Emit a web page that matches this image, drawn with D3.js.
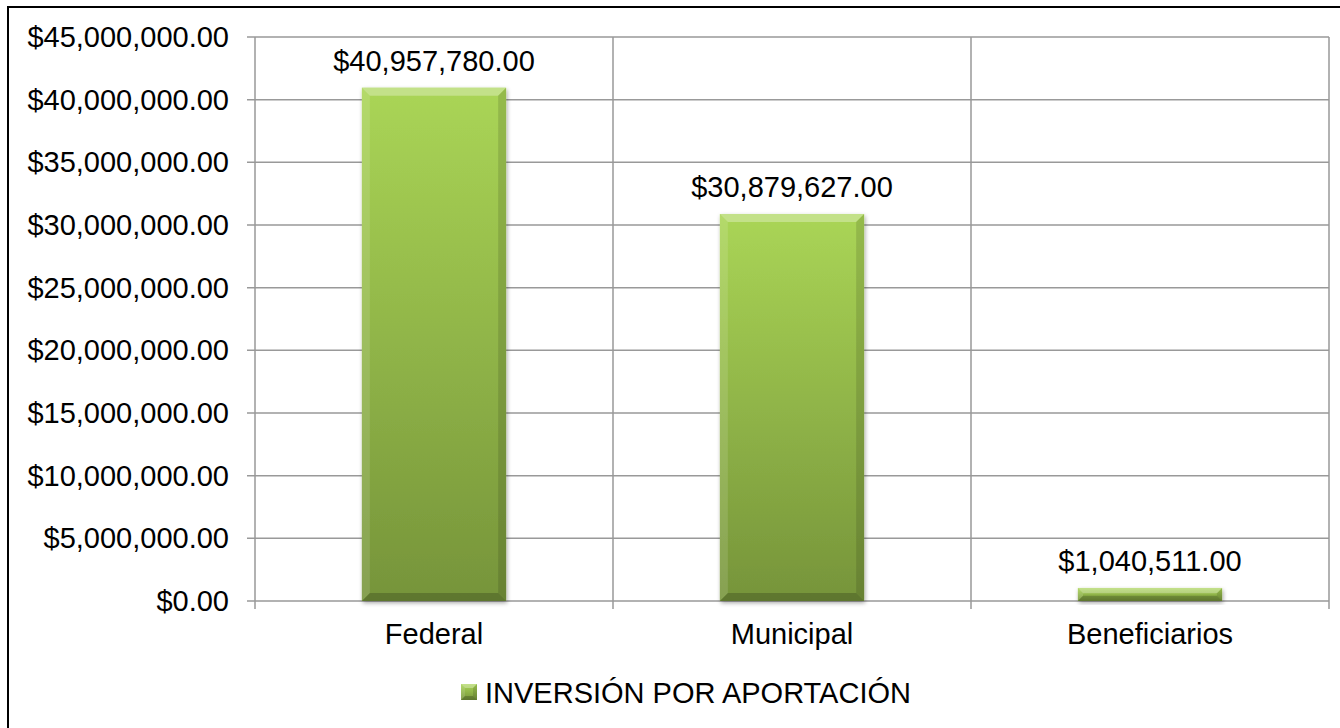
<!DOCTYPE html>
<html lang="es">
<head>
  <meta charset="UTF-8" />
  <title>Inversión por aportación</title>
  <style>
    body { margin: 0; background: #fff; }
    svg { display: block; font-family: "Liberation Sans", Arial, sans-serif; }
  </style>
  <script src="https://d3js.org/d3.v7.min.js"></script>
</head>
<body>
<svg id="chart" width="1340" height="728"></svg>
<script>
  const categories = ['Federal', 'Municipal', 'Beneficiarios'];
  const values = [40957780, 30879627, 1040511];
  const yTicks = [0, 5e6, 10e6, 15e6, 20e6, 25e6, 30e6, 35e6, 40e6, 45e6];
  const seriesName = 'INVERSIÓN POR APORTACIÓN';

  const svg = d3.select('#chart');
  const plotLeft = 255, plotRight = 1329, plotTop = 37, plotBottom = 601;
  const fs = 29;

  const money = v => '$' + d3.format(',.2f')(v);

  const x = d3.scaleBand().domain(categories).range([plotLeft, plotRight]).padding(0);
  const y = d3.scaleLinear().domain([0, 45e6]).range([plotBottom, plotTop]);

  // frame around the whole chart
  svg.append('rect')
    .attr('x', 8).attr('y', 7).attr('width', 1340).attr('height', 730)
    .attr('fill', 'none').attr('stroke', '#000').attr('stroke-width', 2);

  const defs = svg.append('defs');
  const grad = defs.append('linearGradient').attr('id', 'barGrad')
    .attr('x1', 0).attr('y1', 0).attr('x2', 0).attr('y2', 1);
  grad.append('stop').attr('offset', '0%').attr('stop-color', '#aad556');
  grad.append('stop').attr('offset', '100%').attr('stop-color', '#76943a');

  const shadow = defs.append('filter').attr('id', 'shadow')
    .attr('x', '-10%').attr('y', '-10%').attr('width', '130%').attr('height', '140%');
  shadow.append('feDropShadow').attr('dx', 1).attr('dy', 2).attr('stdDeviation', 2)
    .attr('flood-color', '#000').attr('flood-opacity', 0.35);

  // gridlines
  svg.append('g').selectAll('line').data(yTicks).join('line')
    .attr('x1', plotLeft - 8).attr('x2', plotRight)
    .attr('y1', d => y(d)).attr('y2', d => y(d))
    .attr('stroke', '#999').attr('stroke-width', 1.5);

  const xEdges = categories.map(c => x(c)).concat([plotRight]);
  svg.append('g').selectAll('line').data(xEdges).join('line')
    .attr('x1', d => d).attr('x2', d => d)
    .attr('y1', plotTop).attr('y2', plotBottom + 8)
    .attr('stroke', '#999').attr('stroke-width', 1.5);

  // y axis labels
  svg.append('g').selectAll('text').data(yTicks).join('text')
    .attr('x', 229).attr('y', d => y(d)).attr('dy', '0.35em')
    .attr('text-anchor', 'end').attr('font-size', fs).attr('fill', '#000')
    .text(money);

  // category labels
  svg.append('g').selectAll('text').data(categories).join('text')
    .attr('x', d => x(d) + x.bandwidth() / 2).attr('y', 644)
    .attr('text-anchor', 'middle').attr('font-size', fs).attr('fill', '#000')
    .text(d => d);

  // beveled box, used for bars and legend key
  function bevelBox(g, x0, x1, y0, y1, bMax, withShadow) {
    const b = Math.min(bMax, (y1 - y0) / 2.5, (x1 - x0) / 2.5);
    const r = g.append('rect').attr('x', x0).attr('y', y0)
      .attr('width', x1 - x0).attr('height', y1 - y0)
      .attr('fill', 'url(#barGrad)');
    if (withShadow) r.attr('filter', 'url(#shadow)');
    const poly = (pts, fill, op) => g.append('polygon')
      .attr('points', pts.map(p => p.join(',')).join(' '))
      .attr('fill', fill).attr('fill-opacity', op);
    poly([[x0, y0], [x1, y0], [x1 - b, y0 + b], [x0 + b, y0 + b]], '#ffffff', 0.3);
    poly([[x0, y0], [x0 + b, y0 + b], [x0 + b, y1 - b], [x0, y1]], '#ffffff', 0.12);
    poly([[x1, y0], [x1, y1], [x1 - b, y1 - b], [x1 - b, y0 + b]], '#000000', 0.12);
    poly([[x0, y1], [x0 + b, y1 - b], [x1 - b, y1 - b], [x1, y1]], '#000000', 0.2);
  }

  // bars
  const bw = x.bandwidth() * 0.403;
  const bars = svg.append('g').selectAll('g').data(categories).join('g');
  bars.each(function(c, i) {
    const x0 = x(c) + (x.bandwidth() - bw) / 2;
    bevelBox(d3.select(this), x0, x0 + bw, y(values[i]), y(0), 8, true);
  });

  // value labels
  svg.append('g').selectAll('text').data(categories).join('text')
    .attr('x', d => x(d) + x.bandwidth() / 2)
    .attr('y', (d, i) => y(values[i]) - 17)
    .attr('text-anchor', 'middle').attr('font-size', fs).attr('fill', '#000')
    .text((d, i) => money(values[i]));

  // legend
  const lg = svg.append('g');
  bevelBox(lg, 461, 477, 684, 700, 4, false);
  lg.append('text').attr('x', 485).attr('y', 703)
    .attr('font-size', fs).attr('fill', '#000').text(seriesName);
</script>
</body>
</html>
